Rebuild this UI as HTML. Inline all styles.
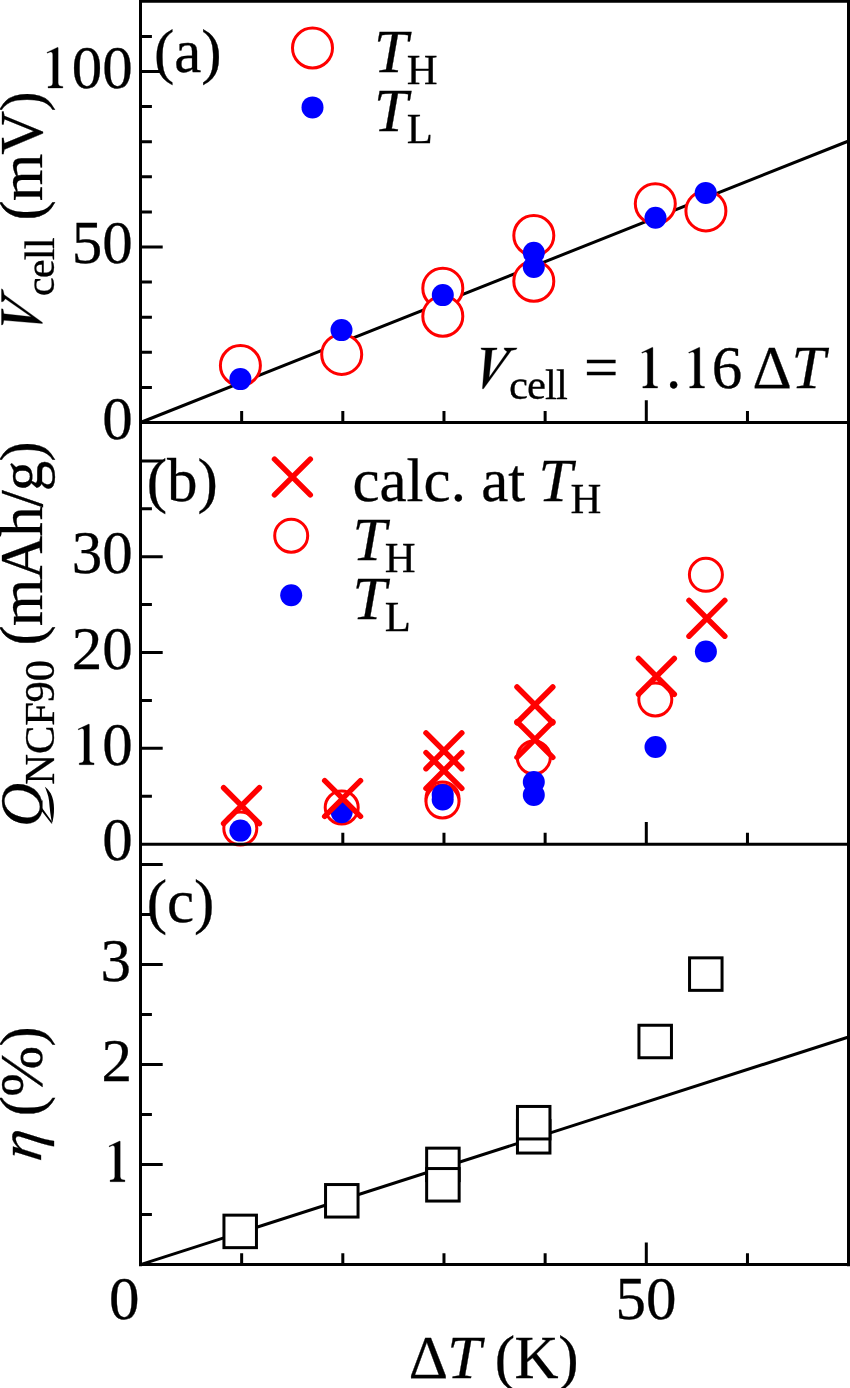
<!DOCTYPE html>
<html><head><meta charset="utf-8"><style>
html,body{margin:0;padding:0;background:#fff;width:850px;height:1388px;overflow:hidden}
svg{display:block;will-change:transform}
text{font-family:"Liberation Serif",serif;font-kerning:none;fill:#000;stroke:#000;stroke-width:0.3px}
</style></head><body>
<svg width="850" height="1388" viewBox="0 0 850 1388">
<rect width="850" height="1388" fill="#fff"/>
<path d="M140.5 387.40H151.90 M140.5 352.30H151.90 M140.5 317.20H151.90 M140.5 282.10H151.90 M140.5 247.00H162.70 M140.5 211.90H151.90 M140.5 176.80H151.90 M140.5 141.70H151.90 M140.5 106.60H151.90 M140.5 71.50H162.70 M140.5 36.40H151.90 M140.5 796.29H151.90 M140.5 748.37H162.70 M140.5 700.46H151.90 M140.5 652.54H162.70 M140.5 604.62H151.90 M140.5 556.71H162.70 M140.5 508.80H151.90 M140.5 460.88H162.70 M140.5 1214.60H151.90 M140.5 1164.60H162.70 M140.5 1114.60H151.90 M140.5 1064.60H162.70 M140.5 1014.60H151.90 M140.5 964.60H162.70 M140.5 914.60H151.90 M140.5 864.60H162.70 M241.66 422.5V411.10 M342.82 422.5V411.10 M443.98 422.5V411.10 M545.14 422.5V411.10 M646.30 422.5V400.30 M747.46 422.5V411.10 M241.66 844.2V832.80 M342.82 844.2V832.80 M443.98 844.2V832.80 M545.14 844.2V832.80 M646.30 844.2V822.00 M747.46 844.2V832.80 M241.66 1264.6V1253.20 M342.82 1264.6V1253.20 M443.98 1264.6V1253.20 M545.14 1264.6V1253.20 M646.30 1264.6V1242.40 M747.46 1264.6V1253.20" stroke="#000" stroke-width="3" fill="none"/>
<line x1="140.5" y1="422.5" x2="848.6" y2="141" stroke="#000" stroke-width="3"/>
<line x1="140.5" y1="1264.6" x2="848.6" y2="1037" stroke="#000" stroke-width="3"/>
<circle cx="240.4" cy="365.5" r="20.0" fill="#fff" stroke="#f00" stroke-width="3"/>
<circle cx="341.7" cy="354.4" r="20.0" fill="#fff" stroke="#f00" stroke-width="3"/>
<circle cx="442.8" cy="288.2" r="20.0" fill="#fff" stroke="#f00" stroke-width="3"/>
<circle cx="442.8" cy="316.2" r="20.0" fill="#fff" stroke="#f00" stroke-width="3"/>
<circle cx="533.8" cy="235.5" r="20.0" fill="#fff" stroke="#f00" stroke-width="3"/>
<circle cx="533.8" cy="281.2" r="20.0" fill="#fff" stroke="#f00" stroke-width="3"/>
<circle cx="655.3" cy="203.7" r="20.0" fill="#fff" stroke="#f00" stroke-width="3"/>
<circle cx="705.9" cy="210.9" r="20.0" fill="#fff" stroke="#f00" stroke-width="3"/>
<circle cx="240.4" cy="379.1" r="11.0" fill="#00f"/>
<circle cx="341.5" cy="330.1" r="11.0" fill="#00f"/>
<circle cx="442.8" cy="295.1" r="11.0" fill="#00f"/>
<circle cx="533.8" cy="252.8" r="11.0" fill="#00f"/>
<circle cx="533.8" cy="267.0" r="11.0" fill="#00f"/>
<circle cx="655.5" cy="217.7" r="11.0" fill="#00f"/>
<circle cx="705.7" cy="192.9" r="11.0" fill="#00f"/>
<circle cx="240.3" cy="828.5" r="16.5" fill="#fff" stroke="#f00" stroke-width="3"/>
<circle cx="341.7" cy="807.5" r="16.5" fill="#fff" stroke="#f00" stroke-width="3"/>
<circle cx="442.5" cy="798.5" r="16.5" fill="#fff" stroke="#f00" stroke-width="3"/>
<circle cx="442.5" cy="801.5" r="16.5" fill="#fff" stroke="#f00" stroke-width="3"/>
<circle cx="533.8" cy="757.5" r="16.5" fill="#fff" stroke="#f00" stroke-width="3"/>
<circle cx="655.3" cy="699.5" r="16.5" fill="#fff" stroke="#f00" stroke-width="3"/>
<circle cx="705.9" cy="574.8" r="16.5" fill="#fff" stroke="#f00" stroke-width="3"/>
<circle cx="240.4" cy="830.6" r="11.0" fill="#00f"/>
<circle cx="341.7" cy="812.2" r="11.0" fill="#00f"/>
<circle cx="442.7" cy="794.9" r="11.0" fill="#00f"/>
<circle cx="442.7" cy="799.5" r="11.0" fill="#00f"/>
<circle cx="533.8" cy="782.0" r="11.0" fill="#00f"/>
<circle cx="533.8" cy="795.0" r="11.0" fill="#00f"/>
<circle cx="655.5" cy="747.0" r="11.0" fill="#00f"/>
<circle cx="705.9" cy="651.5" r="11.0" fill="#00f"/>
<path d="M223.60 787.70L259.40 823.50M259.40 787.70L223.60 823.50" stroke="#f00" stroke-width="5.5" stroke-linecap="round" fill="none"/>
<path d="M324.70 780.60L360.50 816.40M360.50 780.60L324.70 816.40" stroke="#f00" stroke-width="5.5" stroke-linecap="round" fill="none"/>
<path d="M426.00 732.90L461.80 768.70M461.80 732.90L426.00 768.70" stroke="#f00" stroke-width="5.5" stroke-linecap="round" fill="none"/>
<path d="M426.00 752.60L461.80 788.40M461.80 752.60L426.00 788.40" stroke="#f00" stroke-width="5.5" stroke-linecap="round" fill="none"/>
<path d="M517.00 687.00L552.80 722.80M552.80 687.00L517.00 722.80" stroke="#f00" stroke-width="5.5" stroke-linecap="round" fill="none"/>
<path d="M517.00 721.60L552.80 757.40M552.80 721.60L517.00 757.40" stroke="#f00" stroke-width="5.5" stroke-linecap="round" fill="none"/>
<path d="M638.50 658.50L674.30 694.30M674.30 658.50L638.50 694.30" stroke="#f00" stroke-width="5.5" stroke-linecap="round" fill="none"/>
<path d="M689.00 600.40L724.80 636.20M724.80 600.40L689.00 636.20" stroke="#f00" stroke-width="5.5" stroke-linecap="round" fill="none"/>
<rect x="223.95" y="1215.15" width="32.5" height="32.5" fill="#fff" stroke="#000" stroke-width="3"/>
<rect x="325.55" y="1184.55" width="32.5" height="32.5" fill="#fff" stroke="#000" stroke-width="3"/>
<rect x="426.65" y="1148.15" width="32.5" height="32.5" fill="#fff" stroke="#000" stroke-width="3"/>
<rect x="426.65" y="1168.55" width="32.5" height="32.5" fill="#fff" stroke="#000" stroke-width="3"/>
<rect x="517.45" y="1120.55" width="32.5" height="32.5" fill="#fff" stroke="#000" stroke-width="3"/>
<rect x="517.45" y="1106.45" width="32.5" height="32.5" fill="#fff" stroke="#000" stroke-width="3"/>
<rect x="638.95" y="1025.25" width="32.5" height="32.5" fill="#fff" stroke="#000" stroke-width="3"/>
<rect x="689.55" y="957.85" width="32.5" height="32.5" fill="#fff" stroke="#000" stroke-width="3"/>
<circle cx="312.5" cy="48.0" r="20.0" fill="#fff" stroke="#f00" stroke-width="3"/>
<circle cx="312.5" cy="107.4" r="11.0" fill="#00f"/>
<path d="M274.50 459.10L310.30 494.90M310.30 459.10L274.50 494.90" stroke="#f00" stroke-width="5.5" stroke-linecap="round" fill="none"/>
<circle cx="291.2" cy="535.7" r="16.5" fill="#fff" stroke="#f00" stroke-width="3"/>
<circle cx="291.2" cy="595.3" r="11.0" fill="#00f"/>
<path d="M140.5 0V1266.2 M848.5 0V1266.2 M139 1.3H850 M139 422.5H850 M139 844.2H850 M139 1264.6H850" stroke="#000" stroke-width="3" fill="none"/>
<path transform="translate(52.75,88.00)" d="M5.0 -40.7L5.4 -40.2L5.4 -5.1C5.4 -2.6 7.2 -1.6 10.1 -1.6L10.1 0L-4.7 0L-4.7 -1.6C-1.8 -1.6 0 -2.6 0 -5.1L0 -33.1C0 -35 -0.6 -36.2 -2.3 -36.1C-3.2 -36 -4.3 -35.4 -5.4 -34.8L-5.8 -35.6Z" fill="#000" stroke="#000" stroke-width="0.3" stroke-linejoin="round"/>
<text x="71.82" y="87.70" font-size="61.0">00</text>
<text x="71.82" y="263.40" font-size="61.0">50</text>
<text x="102.32" y="438.60" font-size="61.0">0</text>
<text x="71.82" y="572.80" font-size="61.0">30</text>
<text x="71.82" y="668.60" font-size="61.0">20</text>
<path transform="translate(83.95,764.70)" d="M5.0 -40.7L5.4 -40.2L5.4 -5.1C5.4 -2.6 7.2 -1.6 10.1 -1.6L10.1 0L-4.7 0L-4.7 -1.6C-1.8 -1.6 0 -2.6 0 -5.1L0 -33.1C0 -35 -0.6 -36.2 -2.3 -36.1C-3.2 -36 -4.3 -35.4 -5.4 -34.8L-5.8 -35.6Z" fill="#000" stroke="#000" stroke-width="0.3" stroke-linejoin="round"/>
<text x="102.32" y="764.50" font-size="61.0">0</text>
<text x="102.32" y="860.40" font-size="61.0">0</text>
<text x="100.48" y="981.30" font-size="61.0">3</text>
<text x="101.59" y="1081.00" font-size="61.0">2</text>
<path transform="translate(114.80,1181.70)" d="M5.0 -40.7L5.4 -40.2L5.4 -5.1C5.4 -2.6 7.2 -1.6 10.1 -1.6L10.1 0L-4.7 0L-4.7 -1.6C-1.8 -1.6 0 -2.6 0 -5.1L0 -33.1C0 -35 -0.6 -36.2 -2.3 -36.1C-3.2 -36 -4.3 -35.4 -5.4 -34.8L-5.8 -35.6Z" fill="#000" stroke="#000" stroke-width="0.3" stroke-linejoin="round"/>
<text x="109.05" y="1319.40" font-size="61.0">0</text>
<text x="615.39" y="1319.30" font-size="61.0">50</text>
<text x="153.92" y="72.00" font-size="61.0">(a)</text>
<text x="146.72" y="501.40" font-size="61.0">(b)</text>
<text x="146.72" y="921.80" font-size="61.0">(c)</text>
<text x="374.01" y="72.20" font-size="61.0" font-style="italic">T</text>
<text x="406.77" y="84.00" font-size="42.7">H</text>
<text x="374.01" y="131.00" font-size="61.0" font-style="italic">T</text>
<text x="406.77" y="142.60" font-size="42.7">L</text>
<text x="352.48" y="501.00" font-size="61.0">calc. at</text>
<text x="538.61" y="501.00" font-size="61.0" font-style="italic">T</text>
<text x="570.61" y="512.80" font-size="42.7">H</text>
<text x="352.41" y="559.80" font-size="61.0" font-style="italic">T</text>
<text x="384.87" y="571.60" font-size="42.7">H</text>
<text x="352.41" y="619.10" font-size="61.0" font-style="italic">T</text>
<text x="384.87" y="630.90" font-size="42.7">L</text>
<path transform="translate(480.9,388)" d="M0.00 -40.10L16.20 -40.10L15.90 -38.60L11.20 -37.70L8.20 -10.40L26.20 -36.20L23.50 -38.40L23.20 -40.10L36.20 -40.10L35.30 -38.60L30.30 -37.40L2.60 0.80L1.50 0.80L4.70 -37.70L0.60 -38.60Z" fill="#000" stroke="#000" stroke-width="0.3" stroke-linejoin="round"/>
<text x="508.97" y="399.40" font-size="42.7" textLength="58.88" lengthAdjust="spacing">cell</text>
<text x="583.96" y="388.00" font-size="61.0">=</text>
<path transform="translate(647.50,388.00)" d="M5.0 -40.7L5.4 -40.2L5.4 -5.1C5.4 -2.6 7.2 -1.6 10.1 -1.6L10.1 0L-4.7 0L-4.7 -1.6C-1.8 -1.6 0 -2.6 0 -5.1L0 -33.1C0 -35 -0.6 -36.2 -2.3 -36.1C-3.2 -36 -4.3 -35.4 -5.4 -34.8L-5.8 -35.6Z" fill="#000" stroke="#000" stroke-width="0.3" stroke-linejoin="round"/>
<text x="666.04" y="388.00" font-size="61.0">.</text>
<path transform="translate(694.40,388.00)" d="M5.0 -40.7L5.4 -40.2L5.4 -5.1C5.4 -2.6 7.2 -1.6 10.1 -1.6L10.1 0L-4.7 0L-4.7 -1.6C-1.8 -1.6 0 -2.6 0 -5.1L0 -33.1C0 -35 -0.6 -36.2 -2.3 -36.1C-3.2 -36 -4.3 -35.4 -5.4 -34.8L-5.8 -35.6Z" fill="#000" stroke="#000" stroke-width="0.3" stroke-linejoin="round"/>
<text x="711.79" y="388.00" font-size="61.0">6</text>
<text x="752.38" y="388.00" font-size="61.0">Δ</text>
<text x="791.61" y="388.00" font-size="61.0" font-style="italic">T</text>
<path transform="translate(41.6,325) rotate(-90)" d="M0.00 -40.10L16.20 -40.10L15.90 -38.60L11.20 -37.70L8.20 -10.40L26.20 -36.20L23.50 -38.40L23.20 -40.10L36.20 -40.10L35.30 -38.60L30.30 -37.40L2.60 0.80L1.50 0.80L4.70 -37.70L0.60 -38.60Z" fill="#000" stroke="#000" stroke-width="0.3" stroke-linejoin="round"/>
<text transform="translate(53.80,296.33) rotate(-90)" font-size="42.7" textLength="58.98" lengthAdjust="spacing">cell</text>
<text transform="translate(41.50,220.38) rotate(-90)" font-size="61.0" textLength="128.96" lengthAdjust="spacing">(mV)</text>
<text transform="translate(41.80,827.07) rotate(-90)" font-size="61.0" font-style="italic">Q</text>
<rect transform="translate(41.80,827.07) rotate(-90)" x="19.6" y="0.75" width="19" height="10.2" fill="#fff"/>
<path transform="translate(41.80,827.07) rotate(-90)" d="M16.7 -0.7L18.7 0.5L4.9 10.6L3.2 9.8Z M3.3 10.3C12 12.8 25 13.4 33.5 9.0C36.5 7.2 39 5 40.4 3.1C37 4.3 32 6.8 26 7.3C19 7.8 10 8.9 3.3 10.3Z" fill="#000"/>
<text transform="translate(54.00,784.63) rotate(-90)" font-size="42.7" textLength="124.66" lengthAdjust="spacing">NCF90</text>
<text transform="translate(41.50,645.58) rotate(-90)" font-size="61.0" textLength="204.16" lengthAdjust="spacing">(mAh/g)</text>
<text transform="translate(41.00,1162.27) rotate(-90) skewX(-8)" font-size="61.0" font-style="italic">η</text>
<text transform="translate(41.50,1116.18) rotate(-90)" font-size="61.0" textLength="89.86" lengthAdjust="spacing">(%)</text>
<text x="408.68" y="1378.00" font-size="61.0">Δ</text>
<text x="447.31" y="1378.00" font-size="61.0" font-style="italic">T</text>
<text x="494.82" y="1378.00" font-size="61.0" textLength="83.66" lengthAdjust="spacing">(K)</text>
</svg>
</body></html>
